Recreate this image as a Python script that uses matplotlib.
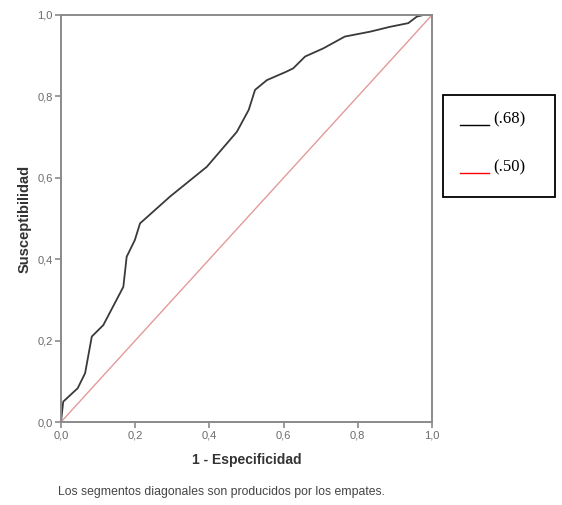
import matplotlib
matplotlib.use("Agg")
import matplotlib.pyplot as plt
from matplotlib.patches import Rectangle
from matplotlib.lines import Line2D

# ROC curve points
fpr = [0.0, 0.006, 0.045, 0.065, 0.083, 0.114, 0.168, 0.177, 0.199, 0.213,
       0.294, 0.393, 0.474, 0.506, 0.523, 0.555, 0.608, 0.626, 0.658, 0.707,
       0.765, 0.833, 0.887, 0.936, 0.959, 0.977, 1.0]
tpr = [0.0, 0.050, 0.083, 0.120, 0.210, 0.238, 0.332, 0.406, 0.447, 0.488,
       0.554, 0.627, 0.713, 0.767, 0.816, 0.840, 0.861, 0.869, 0.898, 0.918,
       0.947, 0.959, 0.971, 0.980, 0.996, 1.0, 1.0]
ref_line = [0.0, 1.0]
ticks = [0.0, 0.2, 0.4, 0.6, 0.8, 1.0]
tick_labels = ["0,0", "0,2", "0,4", "0,6", "0,8", "1,0"]
legend_labels = ["(.68)", "(.50)"]
legend_colors = ["black", "red"]

plt.rcParams["font.family"] = ["Liberation Sans", "DejaVu Sans"]

fig = plt.figure(figsize=(5.62, 5.05), dpi=100)
ax = fig.add_axes([61 / 562, 1 - 422 / 505, 371 / 562, 407 / 505])

ax.plot(ref_line, ref_line, color="#e39a9a", linewidth=1.0)
ax.plot(fpr, tpr, color="#3a3a3a", linewidth=1.3)

ax.set_xlim(0, 1)
ax.set_ylim(0, 1)
ax.set_xticks(ticks)
ax.set_xticklabels(tick_labels)
ax.set_yticks(ticks)
ax.set_yticklabels(tick_labels)
for sp in ax.spines.values():
    sp.set_color("#8a8a8a")
    sp.set_linewidth(1.4)
ax.tick_params(colors="#8a8a8a", labelcolor="#6a6a6a", labelsize=8, length=4, width=1.2, pad=2)

ax.set_xlabel("1 - Especificidad", fontsize=10, fontweight="bold", color="#333333", labelpad=9)
ax.set_ylabel("Susceptibilidad", fontsize=10.5, fontweight="bold", color="#333333", labelpad=4)

fig.text(58 / 562, 1 - 492 / 505, "Los segmentos diagonales son producidos por los empates.",
         fontsize=8.8, color="#444444", va="center", ha="left")

# legend box drawn by hand
fig.add_artist(Rectangle((443 / 562, 1 - 197 / 505), 112 / 562, 102 / 505,
                         transform=fig.transFigure, fill=False, edgecolor="black", linewidth=1.3))
for i, (lab, col) in enumerate(zip(legend_labels, legend_colors)):
    y_line = 125 + i * 48
    y_text = 119 + i * 48
    fig.add_artist(Line2D([460 / 562, 489 / 562], [1 - y_line / 505, 1 - y_line / 505],
                          transform=fig.transFigure, color=col, linewidth=1.0))
    fig.text(493 / 562, 1 - y_text / 505, lab, fontsize=12, family="Liberation Serif",
             va="center", ha="left", color="black")

fig.savefig("out.png", dpi=100)
